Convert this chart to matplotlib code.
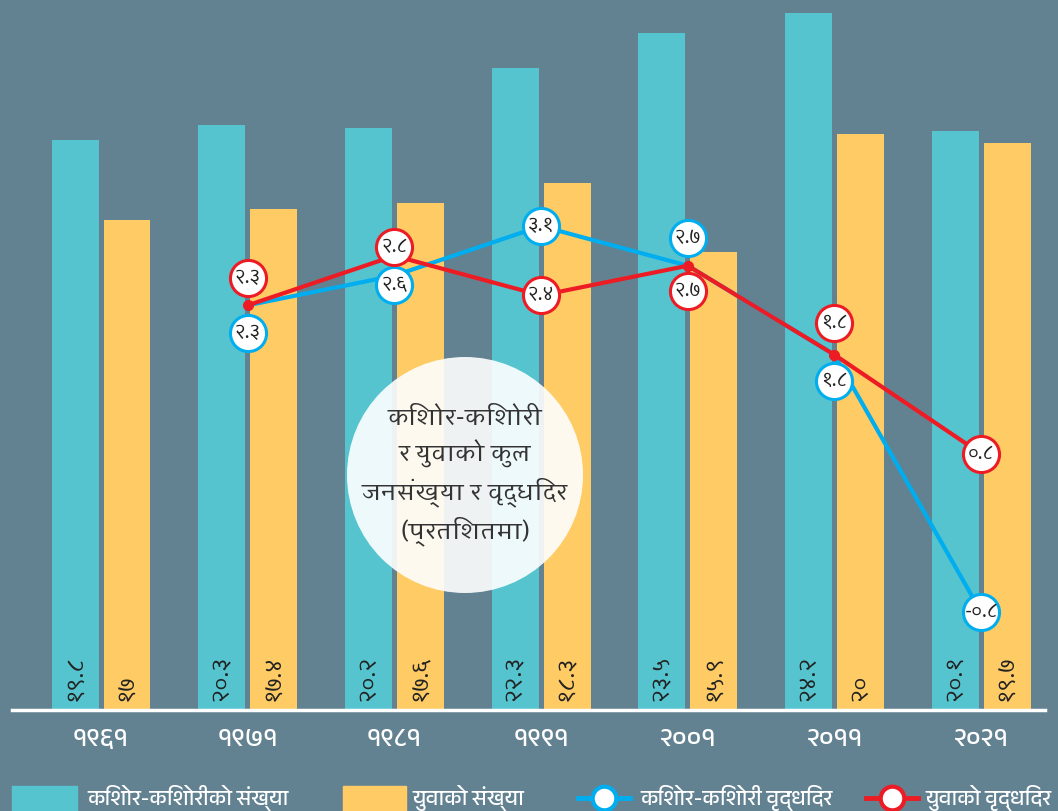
import matplotlib
matplotlib.use('Agg')
import matplotlib.pyplot as plt
from matplotlib.patches import Ellipse, Rectangle
from matplotlib.lines import Line2D
import matplotlib.transforms as mtransforms
import numpy as np

years = ['1961', '1971', '1981', '1991', '2001', '2011', '2021']
teen_pop = [19.8, 20.3, 20.2, 22.3, 23.5, 24.2, 20.1]
youth_pop = [17, 17.4, 17.6, 18.3, 15.9, 20, 19.7]
teen_rate = [2.3, 2.6, 3.1, 2.7, 1.8, -0.8]     # 1971 ... 2021
youth_rate = [2.3, 2.8, 2.4, 2.7, 1.8, 0.8]

legend_labels = ['किशोर-किशोरीको संख्या', 'युवाको संख्या',
                 'किशोर-किशोरी वृद्धिदर', 'युवाको वृद्धिदर']
center_title = 'किशोर-किशोरी\nर युवाको कुल\nजनसंख्या र वृद्धिदर\n(प्रतिशतमा)'

BG = '#638291'
TEAL = '#55c4cf'
YELLOW = '#fecb65'
RED = '#ed1c24'
BLUE = '#00aeef'

plt.rcParams['font.family'] = ['Amiko', 'DejaVu Sans']
COND = ['Anek Devanagari', 'Amiko', 'DejaVu Sans']

DIG = str.maketrans('0123456789', '०१२३४५६७८९')


def np_num(v):
    return ('%g' % v).translate(DIG)


fig = plt.figure(figsize=(10.58, 8.11), dpi=100, facecolor=BG)
ax = fig.add_axes([12 / 1058, 101 / 811, 1033 / 1058, 710 / 811])
ax.set_facecolor(BG)
x = np.arange(len(years))
w = 0.32
ax.bar(x - 0.177, teen_pop, w, color=TEAL, zorder=2)
ax.bar(x + 0.177, youth_pop, w, color=YELLOW, zorder=2)
ax.set_xlim(-0.607, 6.435)
ax.set_ylim(0, 710 / 28.8)
for i in range(len(years)):
    ax.text(x[i] - 0.177, 0.3, np_num(teen_pop[i]), rotation=90, ha='center',
            va='bottom', fontsize=16, color='#222222', zorder=3)
    ax.text(x[i] + 0.177, 0.3, np_num(youth_pop[i]), rotation=90, ha='center',
            va='bottom', fontsize=16, color='#222222', zorder=3)
for s in ax.spines.values():
    s.set_visible(False)
ax.axhline(0, color='white', lw=2.5, zorder=4, clip_on=False)
ax.set_yticks([])
ax.set_xticks(x)
ax.set_xticklabels([y.translate(DIG) for y in years], fontsize=19,
                   fontweight='bold', color='white', family=COND)
ax.tick_params(axis='x', length=0, pad=14)

ax2 = ax.twinx()
ax2.set_ylim((533 - 710) / 99, 533 / 99)
ax2.set_yticks([])
for s in ax2.spines.values():
    s.set_visible(False)
xr = x[1:]
ax2.plot(xr, teen_rate, color=BLUE, lw=3, zorder=3, solid_capstyle='round')
ax2.plot(xr, youth_rate, color=RED, lw=3, zorder=4, solid_capstyle='round')

# label circles: vertical offsets (points) so overlapping labels stay readable
teen_off = [-20, -7, 0, 20, -19, 0]
youth_off = [20, 6, 0, -18, 23, 0]
for i in range(len(xr)):
    if teen_rate[i] == youth_rate[i]:
        ax2.plot(xr[i], teen_rate[i], 'o', color=RED, ms=7, zorder=5)
    for vals, offs, col, z in [(teen_rate, teen_off, BLUE, 6), (youth_rate, youth_off, RED, 7)]:
        tr = mtransforms.offset_copy(ax2.transData, fig=fig, x=0, y=offs[i], units='points')
        ax2.plot(xr[i], vals[i], 'o', transform=tr, ms=26, mfc='white',
                 mec=col, mew=2.2, zorder=z)
        ax2.text(xr[i], vals[i], np_num(vals[i]), transform=tr, ha='center',
                 va='center', fontsize=13, color='#222222', zorder=z + 0.5)

# center title bubble
fig.add_artist(Ellipse((465 / 1058, 1 - 475 / 811), 236 / 1058, 236 / 811,
                       transform=fig.transFigure, facecolor='white', alpha=0.9,
                       edgecolor='none', zorder=5))
fig.text(465 / 1058, 1 - 476 / 811, center_title, ha='center', va='center',
         fontsize=17, color='#333333', linespacing=1.42, zorder=6)

# legend drawn along bottom edge
ly = 1 - 798 / 811
fig.add_artist(Rectangle((12 / 1058, 0), 65 / 1058, 25 / 811, transform=fig.transFigure,
                         color=TEAL))
fig.add_artist(Rectangle((343 / 1058, 0), 63 / 1058, 25 / 811, transform=fig.transFigure,
                         color=YELLOW))
for x0, col in [(578, BLUE), (866, RED)]:
    fig.add_artist(Line2D([x0 / 1058, (x0 + 52) / 1058], [ly, ly], transform=fig.transFigure,
                          color=col, lw=3.5))
    fig.add_artist(Line2D([(x0 + 26) / 1058], [ly], transform=fig.transFigure, marker='o',
                          ms=17, mfc='white', mec=col, mew=3))
for tx, lab in zip([87, 413, 640, 926], legend_labels):
    fig.text(tx / 1058, ly, lab, ha='left', va='center', fontsize=15.5,
             fontweight='bold', color='white', family=COND)

fig.savefig('out.png', dpi=100, facecolor=BG)
